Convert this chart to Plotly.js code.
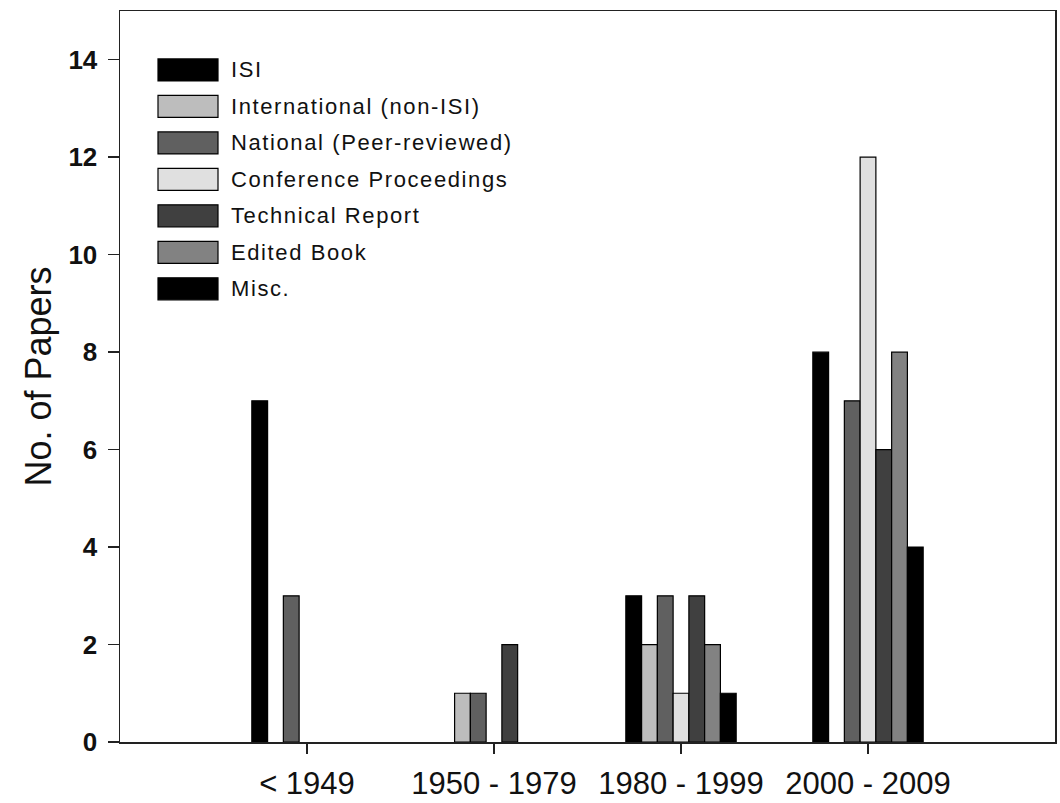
<!DOCTYPE html>
<html>
<head>
<meta charset="utf-8">
<script src="https://cdn.plot.ly/plotly-3.0.1.min.js"></script>
<style>body{margin:0;background:#fff;}#chart{width:1060px;height:803px;}</style>
</head>
<body>
<div id="chart"></div>
<script>
const categories = ["< 1949", "1950 - 1979", "1980 - 1999", "2000 - 2009"];
const seriesNames = ["ISI", "International (non-ISI)", "National (Peer-reviewed)", "Conference Proceedings", "Technical Report", "Edited Book", "Misc."];
const seriesColors = ["#000000", "#bdbdbd", "#606060", "#e0e0e0", "#404040", "#828282", "#000000"];
const isi = [7, 0, 3, 8];
const international = [0, 1, 2, 0];
const national = [3, 1, 3, 7];
const conference = [0, 0, 1, 12];
const technical = [0, 2, 3, 6];
const editedBook = [0, 0, 2, 8];
const misc = [0, 0, 1, 4];
const seriesValues = [isi, international, national, conference, technical, editedBook, misc];
const yTicks = [0, 2, 4, 6, 8, 10, 12, 14];

const FONT = "Liberation Sans, Arial, sans-serif";

const traces = seriesNames.map((name, i) => ({
  type: "bar",
  name: name,
  x: categories,
  y: seriesValues[i],
  marker: {
    color: seriesColors[i],
    line: {color: "#000", width: seriesValues[i].map(v => v > 0 ? 1.2 : 0)}
  },
  showlegend: false,
  hoverinfo: "x+y+name"
}));

// custom legend built from series names/colours (paper coordinates)
const W = 1060, H = 803;
const mL = 120, mR = 5, mT = 10.5, mB = 61;
const pw = W - mL - mR, ph = H - mT - mB;
function px2x(p) { return (p - mL) / pw; }
function py2y(p) { return 1 - (p - mT) / ph; }

const shapes = [];
const annotations = [];
seriesNames.forEach((name, i) => {
  const cy = 69.5 + i * 36.5;
  shapes.push({
    type: "rect", xref: "paper", yref: "paper",
    x0: px2x(158), x1: px2x(218), y0: py2y(cy - 11), y1: py2y(cy + 11),
    fillcolor: seriesColors[i], line: {color: "#000", width: 1.2}
  });
  annotations.push({
    xref: "paper", yref: "paper", x: px2x(229), y: py2y(cy),
    xanchor: "left", yanchor: "middle", showarrow: false,
    text: '<span style="letter-spacing:1.6px">' + name + '</span>',
    font: {family: FONT, size: 22, color: "#111"}
  });
});

const layout = {
  width: W, height: H,
  margin: {l: mL, r: mR, t: mT, b: mB, pad: 0},
  paper_bgcolor: "#fff", plot_bgcolor: "#fff",
  barmode: "group",
  bargap: 0.41, bargroupgap: 0,
  showlegend: false,
  font: {family: FONT, color: "#111"},
  xaxis: {
    type: "category",
    range: [-1, 4],
    showline: true, mirror: true, linecolor: "#222", linewidth: 1.5,
    ticks: "outside", ticklen: 10, tickwidth: 1.5, tickcolor: "#222",
    ticklabelstandoff: 3,
    showgrid: false, zeroline: false,
    tickfont: {family: FONT, size: 31, color: "#111"}
  },
  yaxis: {
    range: [0, 15],
    tickvals: yTicks,
    showline: true, mirror: true, linecolor: "#222", linewidth: 1.5,
    ticks: "outside", ticklen: 11, tickwidth: 1.5, tickcolor: "#222",
    ticklabelstandoff: 5,
    showgrid: false, zeroline: false,
    tickfont: {family: FONT, size: 26, color: "#111", weight: "bold"},
    title: {text: "No. of Papers", font: {family: FONT, size: 36, color: "#111"}, standoff: 6}
  },
  shapes: shapes,
  annotations: annotations
};

Plotly.newPlot("chart", traces, layout, {displayModeBar: false, staticPlot: true});
</script>
</body>
</html>
